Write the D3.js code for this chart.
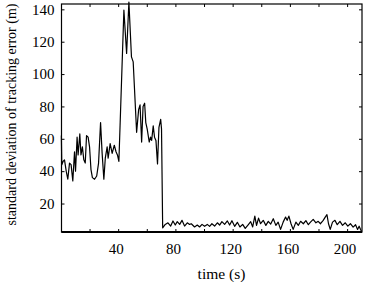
<!DOCTYPE html>
<html>
<head>
<meta charset="utf-8">
<script src="https://cdn.jsdelivr.net/npm/d3@7"></script>
<style>
  html, body { margin: 0; padding: 0; background: #fff; }
  svg { display: block; }
  svg text { font-family: 'Liberation Serif', 'DejaVu Serif', serif !important; fill: #000; }
</style>
</head>
<body>
<svg width="380" height="282"></svg>
<script>
// time (s) of each sample vertex
const times = [
  0.3, 0.6, 1.5, 2.5, 3.7, 4.8, 6, 7.1, 8.3, 9.5, 10.2, 11.3, 12, 13.2, 14, 15, 16, 17, 17.9, 19,
  20, 21, 22, 23.5, 25, 26.3, 27.7, 28.8, 30, 31, 32.3, 33, 34.4, 35.8, 37.3, 38.5, 39.5, 40.5,
  44, 45.9, 47.5, 49.3, 50.5, 52.9, 54.3, 55.3, 56.4, 57.4, 58.5, 59.3, 60.3, 61.7, 62.6, 63.4,
  64.5, 65.4, 66.4, 67.5, 68.5, 69.7, 70.3, 71.1,
  72.9, 74.8, 76.7, 78.3, 79.9, 81.3, 83, 84.6, 86.4, 88.3, 89.9, 91.1, 93.4, 95.3, 96.9, 98.6,
  100.4, 102.3, 103.9, 105.5, 107.4, 109.3, 110.9, 112.5, 114.4, 116.3, 117.9, 119.5, 121.4,
  123.3, 125.1, 127, 128.8, 130.7, 132.6, 134, 135.5, 136.7, 138.1, 139.5, 141.4, 143.2, 144.9,
  146.6, 148.4, 150.2, 151.8, 153.5, 155.3, 157, 158.1, 159.3, 160.8, 162.3, 164.2, 165.9, 167.5,
  169.4, 171.2, 172.9, 174.4, 176.3, 178.2, 179.8, 181.4, 183.3, 184.7, 185.9, 187, 188.2, 189.8,
  191.5, 193.1, 195, 196.8, 198.7, 200.5, 202.3, 204.2, 205.9, 207.3, 208.4, 209.4, 210.1
]
// standard deviation of tracking error (m)
const stdError = [
  62, 44, 46, 47, 40, 35, 45, 44, 34, 52, 40, 61, 50, 63, 50, 55, 47, 45, 62, 61,
  55, 41, 36, 35, 37, 45, 70, 51, 35, 48, 55, 48, 57, 51, 56, 52, 50, 46,
  139.5, 112.7, 144.5, 110.6, 107.5, 64, 78, 81, 58, 80, 82, 70,
  66, 58, 61, 59, 68, 61, 59, 44.5, 67, 72, 66, 5,
  7.1, 8.1, 6.1, 9.2, 6.7, 8.8, 7.1, 9.6, 6.1, 8.1, 7.1, 7.5, 5.5, 6.7, 5.5, 7.1,
  5.9, 7.1, 5.9, 7.5, 6.1, 8.1, 6.7, 8.8, 7.1, 9.2, 6.7, 9.4, 5.9,
  8.4, 5.5, 7.1, 4.6, 6.7, 8.8, 5.5, 12.2, 6.5, 11, 7.5, 9.6, 6.5, 9,
  7.3, 10.6, 6.5, 8.5, 4, 8.5, 11.6, 9.6, 12.2, 7.5, 4, 8.5, 6.5, 9,
  7.5, 9.4, 6.9, 8.5, 10.2, 8.1, 9, 7.5, 9.6, 11.6, 13.1, 7.5, 4, 8.5,
  9.6, 6.9, 9, 6.5, 8.1, 6, 7.5, 5.4, 6.9, 4, 6, 4, 2.7
]
const xTicks = [20, 40, 60, 80, 100, 120, 140, 160, 180, 200]
const xTickLabels = [40, 80, 120, 160, 200]
const yTicks = [20, 40, 60, 80, 100, 120, 140]

const plotLeft = 61.5, plotRight = 362, plotTop = 4, plotBottom = 232

const svg = d3.select('svg')

const x = d3.scaleLinear().domain([0.4, 210.4]).range([plotLeft, plotRight])
const y = d3.scaleLinear().domain([2.4, 143.3]).range([plotBottom, plotTop])

// bottom axis, labels only every 40
const xAxis = d3.axisBottom(x)
  .tickValues(xTicks)
  .tickSize(-3)
  .tickSizeOuter(0)
  .tickPadding(11)
  .tickFormat(d => xTickLabels.includes(d) ? d : '')
svg.append('g')
  .attr('transform', `translate(0,${plotBottom})`)
  .call(xAxis)
  .attr('font-size', 15)
  .selectAll('.tick text').attr('dx', -2.5)

svg.append('g')
  .attr('transform', `translate(0,${plotTop})`)
  .call(d3.axisTop(x).tickValues(xTicks).tickSize(-3).tickSizeOuter(0).tickFormat(''))

svg.append('g')
  .attr('transform', `translate(${plotLeft},0)`)
  .call(d3.axisLeft(y).tickValues(yTicks).tickSize(-3).tickSizeOuter(0).tickPadding(7))
  .attr('font-size', 15)

svg.append('g')
  .attr('transform', `translate(${plotRight},0)`)
  .call(d3.axisRight(y).tickValues(yTicks).tickSize(-3).tickSizeOuter(0).tickFormat(''))

svg.selectAll('.domain').remove()
svg.selectAll('.tick line').attr('stroke', '#000').attr('stroke-width', 1)

// frame
svg.append('rect')
  .attr('x', plotLeft).attr('y', plotTop)
  .attr('width', plotRight - plotLeft).attr('height', plotBottom - plotTop)
  .attr('fill', 'none').attr('stroke', '#000').attr('stroke-width', 1.2)
svg.append('line')
  .attr('x1', plotLeft).attr('x2', plotRight)
  .attr('y1', plotBottom).attr('y2', plotBottom)
  .attr('stroke', '#000').attr('stroke-width', 2)

const line = d3.line()
  .x((d, i) => x(times[i]))
  .y(d => y(d))

svg.append('path')
  .datum(stdError)
  .attr('d', line)
  .attr('fill', 'none')
  .attr('stroke', '#000')
  .attr('stroke-width', 1.2)
  .attr('stroke-linejoin', 'round')

svg.append('text')
  .attr('x', 221.5).attr('y', 278.5)
  .attr('text-anchor', 'middle')
  .attr('font-size', 15.5)
  .text('time (s)')

svg.append('text')
  .attr('transform', 'translate(15.5,114.5) rotate(-90)')
  .attr('text-anchor', 'middle')
  .attr('font-size', 14)
  .text('standard deviation of tracking error (m)')
</script>
</body>
</html>
